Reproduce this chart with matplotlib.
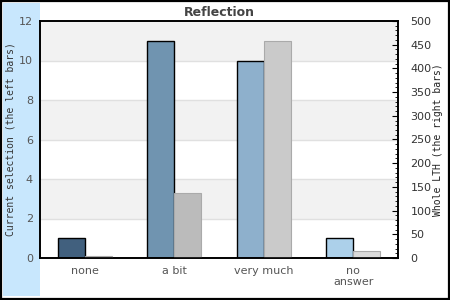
import matplotlib.pyplot as plt
from matplotlib.patches import Rectangle
import numpy as np

categories = ["none", "a bit", "very much", "no\nanswer"]
current = [1, 11, 10, 1]
whole = [5, 138, 457, 15]
left_colors = ["#41607e", "#7094b0", "#8eb0cc", "#acd0ea"]
right_colors = ["#999999", "#bbbbbb", "#cacaca", "#dadada"]

W, H = 450, 300
fig = plt.figure(figsize=(4.5, 3), dpi=100)

# light blue strip on the left and the outer frame
fig.patches.append(Rectangle((3 / W, 4 / H), 37 / W, 293 / H, transform=fig.transFigure,
                             facecolor="#c8e7fd", edgecolor="none", zorder=-1))
fig.patches.append(Rectangle((0.5 / W, 1.5 / H), 448 / W, 298 / H, transform=fig.transFigure,
                             facecolor="none", edgecolor="black", lw=1.6, zorder=5))

ax = fig.add_axes([40 / W, 1 - 258 / H, 358 / W, 237 / H])
ax2 = ax.twinx()

x = np.arange(len(categories))
w = 0.3

# alternating bands + grid
for lo in (2, 6, 10):
    ax.axhspan(lo, lo + 2, color="#f2f2f2", zorder=0, lw=0)
for g in (2, 4, 6, 8, 10):
    ax.axhline(g, color="#e0e0e0", lw=1, zorder=0.5)

ax.bar(x - w / 2, current, width=w, color=left_colors, edgecolor="black", lw=1, zorder=2)
ax2.bar(x + w / 2, whole, width=w, color=right_colors, edgecolor="#aaaaaa", lw=0.8, zorder=2)

ax.set_xlim(-0.5, 3.5)
ax.set_ylim(0, 12)
ax2.set_ylim(0, 500)
ax.set_yticks(range(0, 13, 2))
ax2.set_yticks(range(0, 501, 50))
ax2.set_yticks(range(0, 501, 10), minor=True)

ax.set_xticks(x)
ax.set_xticklabels(categories, fontsize=8, color="#555555", linespacing=1.1)
ax.tick_params(axis="x", length=0, pad=6)
ax.tick_params(axis="y", length=0, pad=5, labelsize=8, labelcolor="#555555")
ax2.tick_params(axis="y", which="major", direction="in", length=4, pad=9,
                labelsize=8, labelcolor="#333333")
ax2.tick_params(axis="y", which="minor", direction="in", length=2)

for a in (ax, ax2):
    for s in a.spines.values():
        s.set_color("black")
        s.set_linewidth(1.2)

ax.set_ylabel("Current selection (the left bars)", family="DejaVu Sans Mono",
              fontsize=7, color="#333333")
ax2.set_ylabel("Whole LTH (the right bars)", family="DejaVu Sans Mono",
               fontsize=7, color="#222222")
ax.yaxis.set_label_coords(-24 / 358, 0.5)
ax2.yaxis.set_label_coords(1 + 35 / 358, 0.5)

fig.text((40 + 179) / W, 1 - 12 / H, "Reflection", ha="center", va="center",
         fontsize=9, fontweight="bold", color="#444444")

fig.savefig("out.png", dpi=100)
